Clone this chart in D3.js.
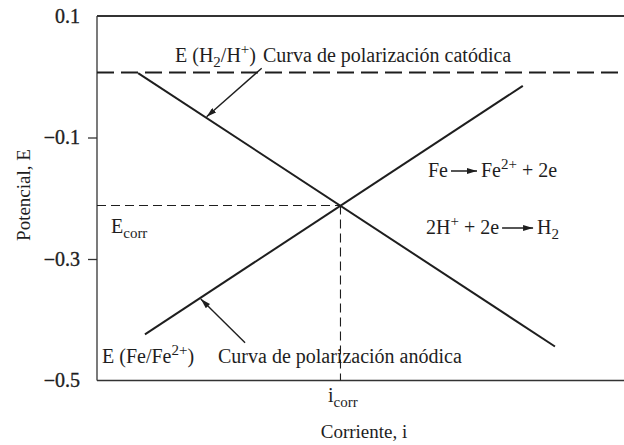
<!DOCTYPE html>
<html>
<head>
<meta charset="utf-8">
<script src="https://cdn.jsdelivr.net/npm/d3@7/dist/d3.min.js"></script>
<style>
  html, body { margin: 0; padding: 0; background: #fff; }
</style>
</head>
<body>
<svg id="chart" width="624" height="445"></svg>
<script>
// Polarization diagram (Evans diagram) for iron corroding in acid.
// Current axis is qualitative (no numeric scale), 0..100 arbitrary units.
const yTicks = [0.1, -0.1, -0.3, -0.5];
const yTickLabels = ["0.1", "\u22120.1", "\u22120.3", "\u22120.5"];

// Cathodic polarization curve (2H+ + 2e -> H2)
const cathodicI = [7.8, 86.9];
const cathodicE = [0.006, -0.444];
// Anodic polarization curve (Fe -> Fe2+ + 2e)
const anodicI = [9.1, 80.8];
const anodicE = [-0.424, -0.015];

// Equilibrium potential of the hydrogen electrode
const eH2 = 0.007;
// Corrosion point
const iCorr = 46.2;
const eCorr = -0.212;

// Pointer arrows: [i, E] of tail and tip
const cathodicPointer = [[31.25, 0.014], [20.8, -0.066]];
const anodicPointer = [[28.1, -0.438], [19.7, -0.366]];

const FONT = "'Liberation Serif', 'Times New Roman', serif";
const ink = "#1e1e1e";

const svg = d3.select("#chart");
const x = d3.scaleLinear().domain([0, 100]).range([97, 624]);
const y = d3.scaleLinear().domain([-0.5, 0.1]).range([380.5, 16]);

// arrowhead marker
const defs = svg.append("defs");
defs.append("marker")
  .attr("id", "head")
  .attr("viewBox", "0 0 10 6")
  .attr("refX", 10).attr("refY", 3)
  .attr("markerWidth", 10).attr("markerHeight", 6)
  .attr("markerUnits", "userSpaceOnUse")
  .attr("orient", "auto")
  .append("path").attr("d", "M0,0 L10,3 L0,6 Z").attr("fill", ink);

// frame: left axis, top and bottom rules
const frame = svg.append("g").attr("stroke", "#333").attr("fill", "none");
frame.append("line").attr("x1", x(0)).attr("x2", x(0)).attr("y1", y(0.1)).attr("y2", y(-0.5)).attr("stroke-width", 1.3);
frame.append("line").attr("x1", x(0)).attr("x2", x(100)).attr("y1", y(0.1)).attr("y2", y(0.1)).attr("stroke-width", 2);
frame.append("line").attr("x1", x(0)).attr("x2", x(100)).attr("y1", y(-0.5)).attr("y2", y(-0.5)).attr("stroke-width", 1.3);

// y axis ticks
const yAxis = d3.axisLeft(y)
  .tickValues(yTicks)
  .tickSize(9)
  .tickPadding(8)
  .tickFormat((d, i) => yTickLabels[i]);
const ga = svg.append("g").attr("transform", `translate(${x(0)},0)`).call(yAxis);
ga.select(".domain").remove();
ga.selectAll(".tick line").attr("stroke", "#333").attr("stroke-width", 1.3)
  .filter(d => d === 0.1 || d === -0.5).remove();
ga.selectAll(".tick text")
  .style("font-family", FONT)
  .attr("font-size", 20)
  .attr("fill", ink)
  .attr("stroke", ink).attr("stroke-width", 0.35);

// H2/H+ equilibrium potential (dashed)
svg.append("line")
  .attr("x1", x(0)).attr("x2", x(100))
  .attr("y1", y(eH2)).attr("y2", y(eH2))
  .attr("stroke", ink).attr("stroke-width", 2)
  .attr("stroke-dasharray", "17,7");

// corrosion potential and current guides
svg.append("line")
  .attr("x1", x(0)).attr("x2", x(iCorr))
  .attr("y1", y(eCorr)).attr("y2", y(eCorr))
  .attr("stroke", ink).attr("stroke-width", 1.1)
  .attr("stroke-dasharray", "9,5");
svg.append("line")
  .attr("x1", x(iCorr)).attr("x2", x(iCorr))
  .attr("y1", y(eCorr)).attr("y2", y(-0.5))
  .attr("stroke", ink).attr("stroke-width", 1.1)
  .attr("stroke-dasharray", "9,5");

// polarization curves
const line = d3.line().x(d => x(d[0])).y(d => y(d[1]));
svg.append("path")
  .datum(cathodicI.map((v, k) => [v, cathodicE[k]]))
  .attr("d", line).attr("fill", "none").attr("stroke", ink).attr("stroke-width", 2);
svg.append("path")
  .datum(anodicI.map((v, k) => [v, anodicE[k]]))
  .attr("d", line).attr("fill", "none").attr("stroke", ink).attr("stroke-width", 2);

// pointer arrows
[cathodicPointer, anodicPointer].forEach(p => {
  svg.append("line")
    .attr("x1", x(p[0][0])).attr("y1", y(p[0][1]))
    .attr("x2", x(p[1][0])).attr("y2", y(p[1][1]))
    .attr("stroke", ink).attr("stroke-width", 1.4)
    .attr("marker-end", "url(#head)");
});

// rich text: segments of [string, level] with level 0 normal, 1 superscript, -1 subscript
const FS = 20;
const SHIFT = { "0": 0, "1": -8, "-1": 5 };
function rich(xp, yp, segs, size) {
  const t = svg.append("text").attr("x", xp).attr("y", yp)
    .style("font-family", FONT).attr("font-size", size || FS).attr("fill", ink);
  let cur = 0;
  segs.forEach(([s, lv]) => {
    const off = SHIFT[lv];
    t.append("tspan").attr("dy", off - cur)
      .attr("font-size", lv === 0 ? (size || FS) : 15)
      .text(s);
    cur = off;
  });
  return t;
}

// E (H2/H+)   Curva de polarización catódica
rich(175, 62, [["E (H", 0], ["2", -1], ["/H", 0], ["+", 1], [")", 0]]);
rich(263, 62, [["Curva de polarización catódica", 0]]);

// E corr
rich(111, 233, [["E", 0], ["corr", -1]]);

// E (Fe/Fe2+)   Curva de polarización anódica
rich(102, 363, [["E (Fe/Fe", 0], ["2+", 1], [")", 0]]);
rich(218, 363, [["Curva de polarización anódica", 0]]);

// reaction equations with drawn arrows
function reaction(x0, yb, left, arrowLen, right) {
  const a = rich(x0, yb, left);
  const w = a.node().getComputedTextLength();
  const ax = x0 + w + 3;
  svg.append("line")
    .attr("x1", ax).attr("x2", ax + arrowLen)
    .attr("y1", yb - 6).attr("y2", yb - 6)
    .attr("stroke", ink).attr("stroke-width", 1.5)
    .attr("marker-end", "url(#head)");
  rich(ax + arrowLen + 4, yb, right);
}
reaction(428, 177, [["Fe", 0]], 26, [["Fe", 0], ["2+", 1], [" + 2e", 0]]);
reaction(426, 234, [["2H", 0], ["+", 1], [" + 2e", 0]], 31, [["H", 0], ["2", -1]]);

// i corr label
rich(328, 402, [["i", 0], ["corr", -1]]);

// axis titles
svg.append("text").attr("x", 364).attr("y", 438)
  .style("font-family", FONT).attr("fill", ink)
  .attr("text-anchor", "middle").attr("font-size", 19)
  .text("Corriente, i");
svg.append("text")
  .attr("transform", "translate(30,195) rotate(-90)")
  .style("font-family", FONT).attr("fill", ink)
  .attr("text-anchor", "middle").attr("font-size", 19)
  .text("Potencial, E");
</script>
</body>
</html>
